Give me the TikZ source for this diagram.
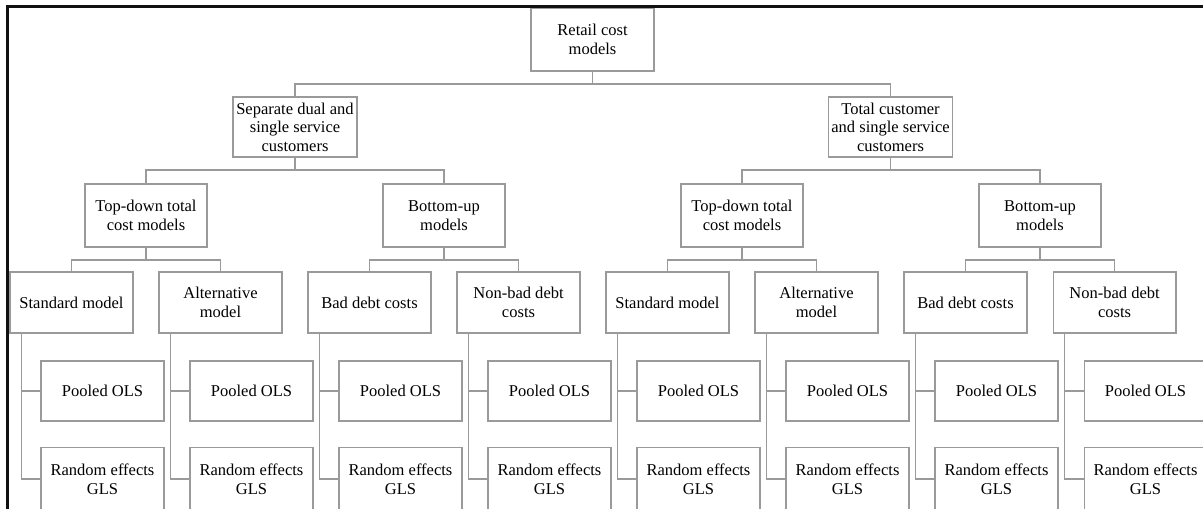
\documentclass[tikz,border=0pt]{standalone}
\usepackage{fontspec}
\setmainfont{Liberation Serif}
\usetikzlibrary{positioning}
\definecolor{boxline}{HTML}{9A9A9A}
\definecolor{frameink}{HTML}{111111}
\tikzset{px/.style={x=0.02cm,y=-0.02cm},
  cbox/.style={draw=boxline,line width=0.6pt,fill=white,align=center,inner sep=0pt,
    minimum width=2.46cm,minimum height=1.2cm,font=\fontsize{9.4}{10.6}\selectfont},
  link/.style={draw=boxline,line width=0.7pt}}

\begin{document}
\begin{tikzpicture}[px]
\useasboundingbox (0,0) rectangle (1203,508);
\clip (0,0) rectangle (1203,508);
% top levels
\node[cbox,minimum height=1.26cm] (root) at (592.5,39.5) {Retail cost\\models};
\node[cbox,minimum width=2.48cm] (sep) at (295,127) {Separate dual and\\single service\\customers};
\node[cbox,minimum width=2.48cm] (tot) at (890.5,127) {Total customer\\and single service\\customers};
\node[cbox,minimum width=2.44cm,minimum height=1.26cm] (td1) at (146,215.5) {Top-down total\\cost models};
\node[cbox,minimum width=2.44cm,minimum height=1.26cm] (bu1) at (444,215.5) {Bottom-up\\models};
\node[cbox,minimum width=2.44cm,minimum height=1.26cm] (td2) at (742,215.5) {Top-down total\\cost models};
\node[cbox,minimum width=2.44cm,minimum height=1.26cm] (bu2) at (1040,215.5) {Bottom-up\\models};
% leaves and estimators
\foreach \i/\t in {1/{Standard model},2/{Alternative\\model},3/{Bad debt costs},4/{Non-bad debt\\costs},
  5/{Standard model},6/{Alternative\\model},7/{Bad debt costs},8/{Non-bad debt\\costs}}{
  \node[cbox,minimum height=1.22cm] (l\i) at ({71.5+149*(\i-1)},302.5) {\t};
  \node[cbox] (p\i) at ({102.5+149*(\i-1)},391) {Pooled OLS};
  \node[cbox,minimum height=1.26cm] (r\i) at ({102.5+149*(\i-1)},479) {Random effects\\GLS};
  \draw[link] ([xshift=0.24cm]l\i.south west) |- (p\i.west);
  \draw[link] ([xshift=0.24cm]l\i.south west) |- (r\i.west);
}
% tree connectors
\foreach \p/\a/\b in {root/sep/tot,sep/td1/bu1,tot/td2/bu2,td1/l1/l2,bu1/l3/l4,td2/l5/l6,bu2/l7/l8}{
  \draw[link] (\p.south) -- ++(0,12.5) coordinate (\p-bus);
  \draw[link] (\p-bus) -| (\a.north);
  \draw[link] (\p-bus) -| (\b.north);
}
% frame
\draw[frameink,line width=1.6pt] (7.5,520) -- (7.5,6.5) -- (1210,6.5);
\end{tikzpicture}
\end{document}
